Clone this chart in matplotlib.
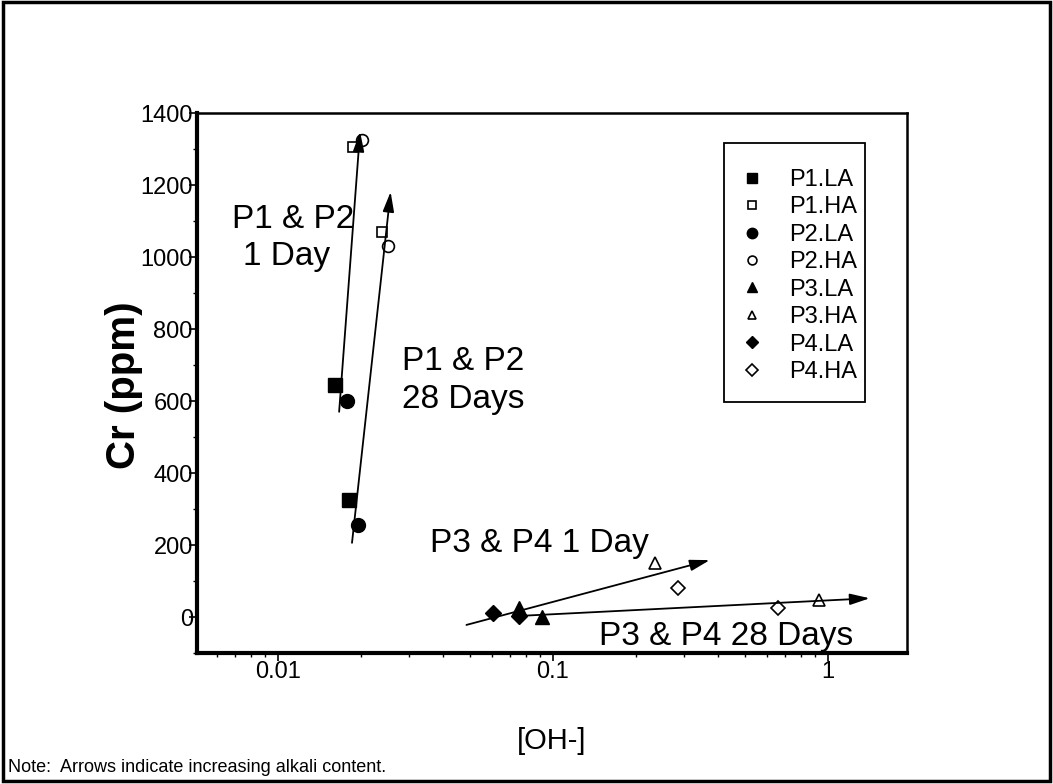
import numpy as np
import matplotlib
matplotlib.use('Agg')
import matplotlib.pyplot as plt
from matplotlib.patches import Rectangle
from matplotlib.ticker import FixedLocator, NullFormatter

plt.rc('font', family=['Liberation Sans', 'DejaVu Sans'])

# [OH-] and Cr (ppm) for each paste, first value 1 day, second 28 days
p1_la_x = [0.0161, 0.0182]
p1_la_y = [645, 325]
p1_ha_x = [0.0188, 0.0240]
p1_ha_y = [1305, 1070]
p2_la_x = [0.0178, 0.0196]
p2_la_y = [600, 256]
p2_ha_x = [0.0202, 0.0252]
p2_ha_y = [1325, 1031]
p3_la_x = [0.0750, 0.0914]
p3_la_y = [25, 0]
p3_ha_x = [0.235, 0.930]
p3_ha_y = [149, 47]
p4_la_x = [0.0607, 0.0755]
p4_la_y = [12, 3]
p4_ha_x = [0.284, 0.660]
p4_ha_y = [80, 24]

# trend arrows, (start, end) in data units
arrow_p12_1d = [(0.0167, 570), (0.0199, 1348)]
arrow_p12_28d = [(0.0186, 206), (0.0257, 1181)]
arrow_p34_1d = [(0.0485, -22), (0.372, 158)]
arrow_p34_28d = [(0.0755, 3), (1.42, 52)]

yticks = [0, 200, 400, 600, 800, 1000, 1200, 1400]
xticks = [0.01, 0.1, 1]
xticklabels = ['0.01', '0.1', '1']

fig = plt.figure(figsize=(10.53, 7.84), dpi=100)
ax = fig.add_axes([197/1053, 1-653/784, 710/1053, 540/784])

fs_tick = 17
fs_note = 24

ms_full = 10
ms_open = 7.5
ax.plot(p1_la_x, p1_la_y, 's', color='black', ms=ms_full, ls='none', label='P1.LA')
ax.plot(p1_ha_x, p1_ha_y, 's', mfc='white', mec='black', mew=1.2, ms=ms_open, ls='none', label='P1.HA')
ax.plot(p2_la_x, p2_la_y, 'o', color='black', ms=ms_full, ls='none', label='P2.LA')
ax.plot(p2_ha_x, p2_ha_y, 'o', mfc='white', mec='black', mew=1.2, ms=ms_open+1, ls='none', label='P2.HA')
ax.plot(p3_la_x, p3_la_y, '^', color='black', ms=ms_full, ls='none', label='P3.LA')
ax.plot(p3_ha_x, p3_ha_y, '^', mfc='white', mec='black', mew=1.2, ms=ms_open+1, ls='none', label='P3.HA')
ax.plot(p4_la_x, p4_la_y, 'D', color='black', ms=ms_full-1.5, ls='none', label='P4.LA')
ax.plot(p4_ha_x, p4_ha_y, 'D', mfc='white', mec='black', mew=1.2, ms=ms_open, ls='none', label='P4.HA')

for a in [arrow_p12_1d, arrow_p12_28d, arrow_p34_1d, arrow_p34_28d]:
    ax.annotate('', xy=a[1], xytext=a[0],
                arrowprops=dict(arrowstyle='-|>,head_length=0.6,head_width=0.17',
                                color='black', lw=1.3,
                                mutation_scale=20, shrinkA=0, shrinkB=0))

ax.set_xscale('log')
ax.set_xlim(0.00508, 1.94)
ax.set_ylim(-100, 1400)

ax.set_xticks(xticks)
ax.set_xticklabels(xticklabels)
ax.xaxis.set_minor_locator(FixedLocator([m*10.0**e for e in (-3, -2, -1, 0) for m in range(2, 10)]))
ax.xaxis.set_minor_formatter(NullFormatter())
ax.set_yticks(yticks)
ax.yaxis.set_minor_locator(FixedLocator(np.arange(-100, 1401, 100)))

ax.tick_params(axis='both', which='major', direction='out', length=6, width=1.2,
               labelsize=fs_tick, top=False, right=False, pad=0)
ax.tick_params(axis='y', which='major', pad=-3)
ax.tick_params(axis='both', which='minor', direction='out', length=3, width=1.0,
               top=False, right=False)

for side, lw in [('left', 3), ('bottom', 3), ('top', 1.8), ('right', 1.8)]:
    ax.spines[side].set_linewidth(lw)

ax.set_ylabel('Cr (ppm)', fontsize=29, fontweight='bold')
ax.yaxis.set_label_coords(-0.076, 0.496)
ax.set_xlabel('[OH-]', fontsize=21)
ax.xaxis.set_label_coords(0.5, -0.137)

# labels for the four groups
ax.text(0.0493, 0.787, 'P1 & P2', transform=ax.transAxes, fontsize=fs_note, va='baseline')
ax.text(0.0648, 0.7185, '1 Day', transform=ax.transAxes, fontsize=fs_note, va='baseline')
ax.text(0.2887, 0.524, 'P1 & P2', transform=ax.transAxes, fontsize=fs_note, va='baseline')
ax.text(0.2887, 0.4537, '28 Days', transform=ax.transAxes, fontsize=fs_note, va='baseline')
ax.text(0.328, 0.187, 'P3 & P4 1 Day', transform=ax.transAxes, fontsize=fs_note, va='baseline')
ax.text(0.566, 0.0148, 'P3 & P4 28 Days', transform=ax.transAxes, fontsize=fs_note, va='baseline')

# legend without its own frame, box drawn separately
leg = ax.legend(loc='upper left', bbox_to_anchor=(0.7563, 0.8963),
                fontsize=17, frameon=False,
                handlelength=1.5, handletextpad=0.85, labelspacing=0.23,
                borderpad=0, markerscale=0.75, borderaxespad=0)
ax.add_patch(Rectangle((0.7423, 0.4648), 0.1986, 0.4796, transform=ax.transAxes,
                       fill=False, edgecolor='black', lw=1.3, zorder=5))

fig.text(8/1053, 1-768/784, 'Note:  Arrows indicate increasing alkali content.',
         fontsize=13, va='center', ha='left')

fig.patches.append(Rectangle((0.003, 0.004), 0.994, 0.993, transform=fig.transFigure,
                             fill=False, edgecolor='black', lw=2.5))

fig.savefig('out.png', dpi=100)
